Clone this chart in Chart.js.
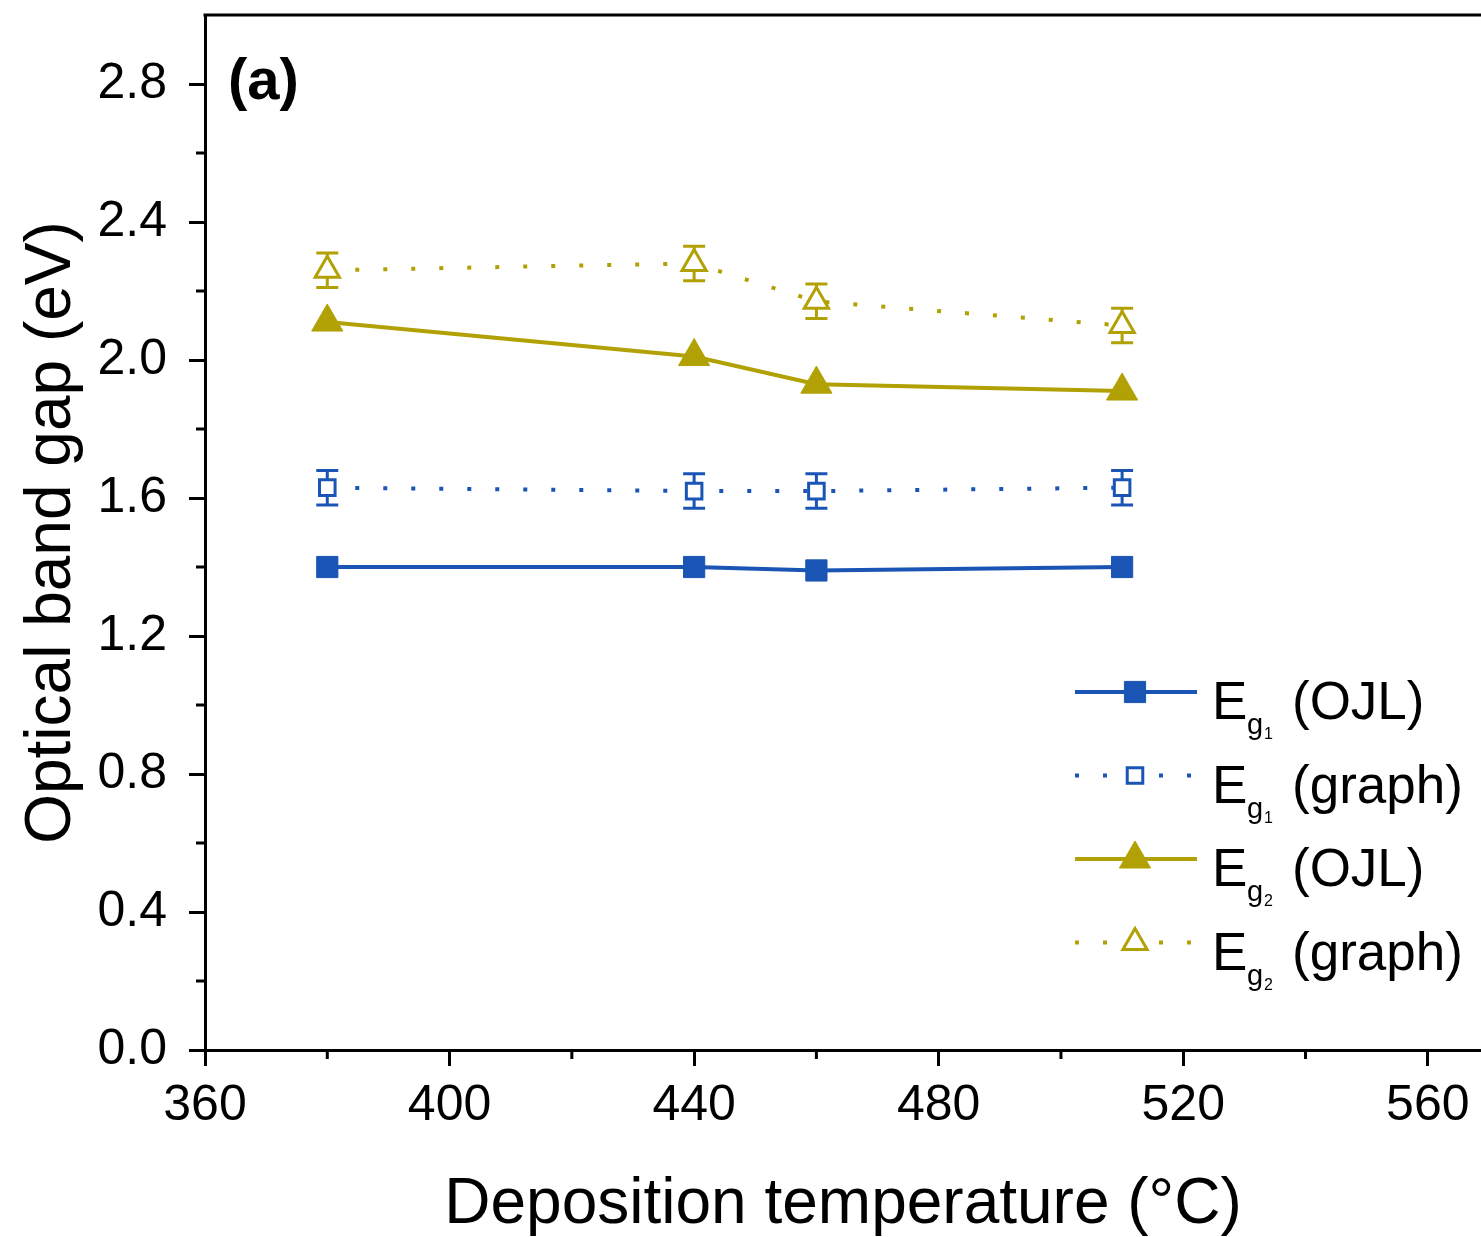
<!DOCTYPE html>
<html>
<head>
<meta charset="utf-8">
<script src="https://cdn.jsdelivr.net/npm/chart.js@4.4.1/dist/chart.umd.min.js"></script>
<style>
  html, body { margin: 0; padding: 0; background: #fff; }
  #wrap { width: 1481px; height: 1237px; }
</style>
</head>
<body>
<div id="wrap"><canvas id="chart" width="1481" height="1237"></canvas></div>
<script>
// data
const temps = [380, 440, 460, 510];
const eg1Ojl = [1.40, 1.40, 1.39, 1.40];
const eg1Graph = [1.63, 1.62, 1.62, 1.63];
const eg1GraphErr = [0.05, 0.05, 0.05, 0.05];
const eg2Ojl = [2.11, 2.01, 1.93, 1.91];
const eg2Graph = [2.26, 2.28, 2.17, 2.10];
const eg2GraphErr = [0.05, 0.05, 0.05, 0.05];

const xTicks = [360, 400, 440, 480, 520, 560];
const xMinor = [380, 420, 460, 500, 540];
const yTicks = [0.0, 0.4, 0.8, 1.2, 1.6, 2.0, 2.4, 2.8];
const yMinor = [0.2, 0.6, 1.0, 1.4, 1.8, 2.2, 2.6];

const legendSubs = ['1', '1', '2', '2'];
const legendNames = ['(OJL)', '(graph)', '(OJL)', '(graph)'];

const BLUE = '#1a55b5';
const OLIVE = '#b1a104';
const FONT = '"Liberation Sans", Arial, sans-serif';

function pts(ys) {
    return temps.map((t, i) => ({ x: t, y: ys[i] }));
}

const errorBars = {
    id: 'errorBars',
    beforeDatasetsDraw(chart) {
        const { ctx, scales: { x, y } } = chart;
        chart.data.datasets.forEach(ds => {
            if (!ds.errors) return;
            ctx.save();
            ctx.strokeStyle = ds.borderColor;
            ctx.lineWidth = 3;
            ds.data.forEach((p, i) => {
                const px = x.getPixelForValue(p.x);
                const top = y.getPixelForValue(p.y + ds.errors[i]);
                const bot = y.getPixelForValue(p.y - ds.errors[i]);
                ctx.beginPath();
                ctx.moveTo(px, top); ctx.lineTo(px, bot);
                ctx.moveTo(px - 11, top); ctx.lineTo(px + 11, top);
                ctx.moveTo(px - 11, bot); ctx.lineTo(px + 11, bot);
                ctx.stroke();
            });
            ctx.restore();
        });
    }
};

const frameAndMinor = {
    id: 'frameAndMinor',
    afterDraw(chart) {
        const { ctx, chartArea, scales: { x, y } } = chart;
        ctx.save();
        ctx.strokeStyle = '#000';
        ctx.lineWidth = 3;
        ctx.beginPath();
        ctx.moveTo(chartArea.left - 1.5, chartArea.top);
        ctx.lineTo(chartArea.right, chartArea.top);
        xMinor.forEach(v => {
            const px = x.getPixelForValue(v);
            ctx.moveTo(px, chartArea.bottom);
            ctx.lineTo(px, chartArea.bottom + 9);
        });
        yMinor.forEach(v => {
            const py = y.getPixelForValue(v);
            ctx.moveTo(chartArea.left, py);
            ctx.lineTo(chartArea.left - 9, py);
        });
        ctx.stroke();

        // panel label
        ctx.fillStyle = '#000';
        ctx.font = 'bold 58px ' + FONT;
        ctx.textBaseline = 'alphabetic';
        ctx.fillText('(a)', 228, 99);
        ctx.restore();
    }
};

const legendBox = {
    id: 'legendBox',
    afterDraw(chart) {
        const ctx = chart.ctx;
        chart.data.datasets.forEach((ds, i) => {
            const cy = 692 + i * 83.5;
            ctx.save();
            ctx.strokeStyle = ds.borderColor;
            ctx.lineWidth = ds.borderWidth;
            ctx.setLineDash(ds.borderDash || []);
            ctx.beginPath();
            ctx.moveTo(1075, cy);
            ctx.lineTo(1197, cy);
            ctx.stroke();
            ctx.setLineDash([]);
            ctx.fillStyle = ds.pointBackgroundColor;
            ctx.lineWidth = ds.pointBorderWidth;
            Chart.helpers.drawPoint(ctx, {
                pointStyle: ds.pointStyle,
                radius: ds.pointRadius,
                borderWidth: ds.pointBorderWidth,
                rotation: 0
            }, 1135, cy);

            ctx.fillStyle = '#000';
            ctx.textBaseline = 'alphabetic';
            ctx.font = '53px ' + FONT;
            ctx.fillText('E', 1212, cy + 27);
            ctx.font = '29px ' + FONT;
            ctx.fillText('g', 1247, cy + 42);
            ctx.font = '16px ' + FONT;
            ctx.fillText(legendSubs[i], 1264, cy + 47);
            ctx.font = '53px ' + FONT;
            ctx.fillText(legendNames[i], 1292, cy + 27);
            ctx.restore();
        });
    }
};

const ctx = document.getElementById('chart').getContext('2d');
new Chart(ctx, {
    type: 'line',
    data: {
        datasets: [
            {
                label: 'Eg1 (OJL)',
                data: pts(eg1Ojl),
                borderColor: BLUE,
                backgroundColor: BLUE,
                pointBackgroundColor: BLUE,
                borderWidth: 4,
                pointStyle: 'rect',
                pointRadius: 15,
                pointBorderWidth: 1
            },
            {
                label: 'Eg1 (graph)',
                data: pts(eg1Graph),
                errors: eg1GraphErr,
                borderColor: BLUE,
                backgroundColor: '#fff',
                pointBackgroundColor: '#fff',
                borderWidth: 4,
                borderDash: [4, 24],
                pointStyle: 'rect',
                pointRadius: 11,
                pointBorderWidth: 3
            },
            {
                label: 'Eg2 (OJL)',
                data: pts(eg2Ojl),
                borderColor: OLIVE,
                backgroundColor: OLIVE,
                pointBackgroundColor: OLIVE,
                borderWidth: 4,
                pointStyle: 'triangle',
                pointRadius: 18,
                pointBorderWidth: 1
            },
            {
                label: 'Eg2 (graph)',
                data: pts(eg2Graph),
                errors: eg2GraphErr,
                borderColor: OLIVE,
                backgroundColor: '#fff',
                pointBackgroundColor: '#fff',
                borderWidth: 4,
                borderDash: [4, 24],
                pointStyle: 'triangle',
                pointRadius: 14,
                pointBorderWidth: 3
            }
        ]
    },
    options: {
        responsive: false,
        animation: false,
        devicePixelRatio: 1,
        layout: { autoPadding: false, padding: { top: 15, right: 0, left: 0, bottom: 0 } },
        plugins: {
            legend: { display: false },
            tooltip: { enabled: false }
        },
        scales: {
            x: {
                type: 'linear',
                min: 360,
                max: 568.7,
                afterBuildTicks: s => { s.ticks = xTicks.map(v => ({ value: v })); },
                afterFit: s => {
                    s.height = 187;
                    s.paddingLeft = 0;
                    s.paddingRight = 0;
                },
                ticks: {
                    color: '#000',
                    font: { size: 50, family: FONT },
                    padding: 10,
                    maxRotation: 0
                },
                grid: {
                    drawOnChartArea: false,
                    tickLength: 16,
                    tickWidth: 3,
                    tickColor: '#000'
                },
                border: { color: '#000', width: 3 },
                title: {
                    display: true,
                    text: 'Deposition temperature (°C)',
                    color: '#000',
                    font: { size: 64, family: FONT, lineHeight: 1 },
                    padding: { top: 0, bottom: 0 }
                }
            },
            y: {
                type: 'linear',
                min: 0,
                max: 3.0,
                afterBuildTicks: s => { s.ticks = yTicks.map(v => ({ value: v })); },
                afterFit: s => {
                    s.width = 205;
                    s.paddingTop = 0;
                    s.paddingBottom = 0;
                },
                ticks: {
                    color: '#000',
                    font: { size: 50, family: FONT },
                    padding: 22,
                    callback: v => v.toFixed(1)
                },
                grid: {
                    drawOnChartArea: false,
                    tickLength: 16,
                    tickWidth: 3,
                    tickColor: '#000'
                },
                border: { color: '#000', width: 3 },
                title: {
                    display: true,
                    text: 'Optical band gap (eV)',
                    color: '#000',
                    font: { size: 64, family: FONT },
                    padding: { top: 14, bottom: 0 }
                }
            }
        }
    },
    plugins: [errorBars, frameAndMinor, legendBox]
});
</script>
</body>
</html>
